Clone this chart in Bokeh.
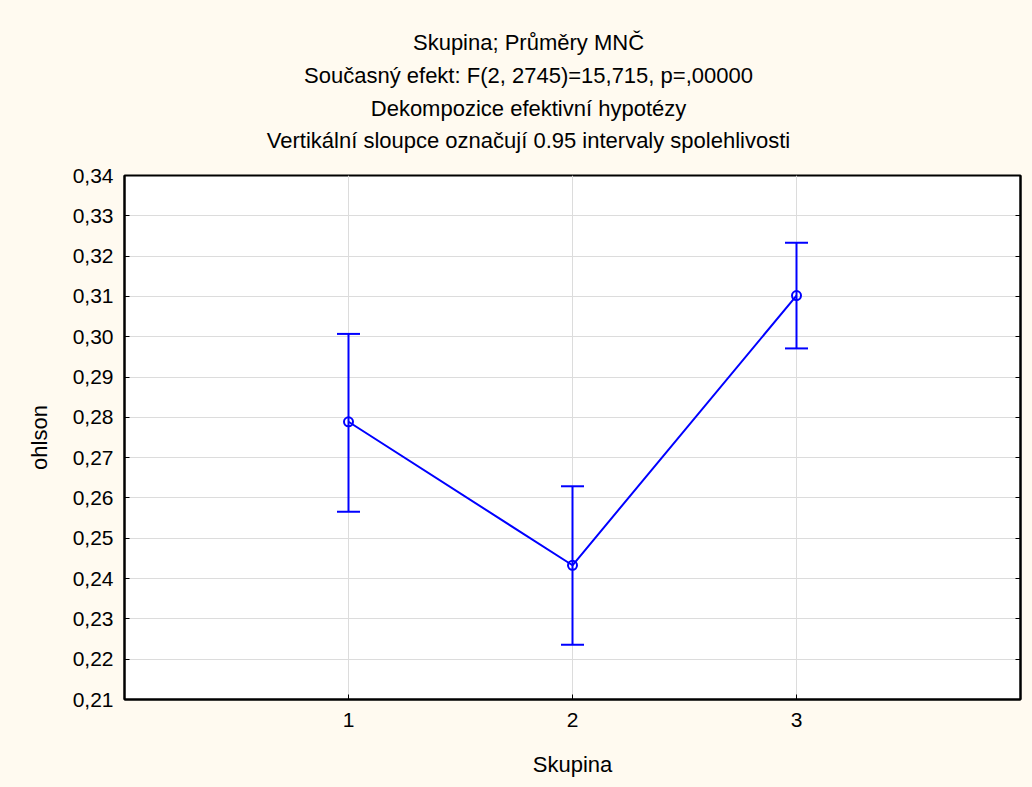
from bokeh.plotting import figure
from bokeh.layouts import column
from bokeh.models import (ColumnDataSource, Whisker, TeeHead, FixedTicker, CustomJSTickFormatter,
                          LinearAxis, Label, Range1d)
from bokeh.embed import file_html
from bokeh.resources import INLINE

# ---- data ----
groups = [1, 2, 3]
means = [0.2789, 0.2433, 0.3102]
upper = [0.3007, 0.2629, 0.3233]
lower = [0.2566, 0.2236, 0.2971]
y_ticks = [0.21, 0.22, 0.23, 0.24, 0.25, 0.26, 0.27, 0.28, 0.29, 0.30, 0.31, 0.32, 0.33, 0.34]
x_ticks = [1, 2, 3]
titles = ["Skupina; Průměry MNČ",
          "Současný efekt: F(2, 2745)=15,715, p=,00000",
          "Dekompozice efektivní hypotézy",
          "Vertikální sloupce označují 0.95 intervaly spolehlivosti"]
x_label = "Skupina"
y_label = "ohlson"

FONT = "Liberation Sans"
BLUE = "#0000FF"
CREAM = "#FFFAF0"
W = 1032
HEAD_H = 162
FRAME_L, FRAME_R = 124, 1020

# ---- header figure holding the four title lines (page-pixel coordinates, y downwards) ----
# the column aligns this figure's frame with the main plot's frame (x 124..1020)
head = figure(output_backend="svg", toolbar_location=None, title_location=None,
              width=W, height=HEAD_H, min_border=0,
              x_range=Range1d(FRAME_L, FRAME_R), y_range=Range1d(HEAD_H, 0),
              background_fill_color=CREAM, border_fill_color=CREAM,
              outline_line_color=None)
head.axis.visible = False
head.grid.visible = False
title_baselines = [42, 75, 108, 140]
for t, yb in zip(titles, title_baselines):
    head.add_layout(Label(x=528, y=yb, text=t, text_align="center", text_baseline="alphabetic",
                          text_font=FONT, text_font_size="22px", text_color="black"))

# ---- main plot ----
p = figure(output_backend="svg", toolbar_location=None, title_location=None,
           frame_width=896, frame_height=524,
           min_border_left=FRAME_L, min_border_right=W - FRAME_R, min_border_top=175 - HEAD_H,
           min_border_bottom=88,
           x_range=Range1d(0, 4), y_range=Range1d(0.21, 0.34),
           background_fill_color="white", border_fill_color=CREAM,
           outline_line_color="black", outline_line_width=2)

src = ColumnDataSource(dict(x=groups, m=means, up=upper, lo=lower))

for ax in (p.xaxis[0], p.yaxis[0]):
    ax.axis_line_color = "black"
    ax.axis_line_width = 2
    ax.major_tick_in = 5
    ax.major_tick_out = 0
    ax.minor_tick_in = 0
    ax.minor_tick_out = 0
    ax.major_tick_line_color = "black"
    ax.major_tick_line_width = 1
    ax.major_label_text_font = FONT
    ax.major_label_text_font_size = "21px"
    ax.major_label_text_color = "black"
    ax.axis_label_text_font = FONT
    ax.axis_label_text_font_size = "22px"
    ax.axis_label_text_font_style = "normal"
    ax.axis_label_text_color = "black"

p.xaxis.ticker = FixedTicker(ticks=x_ticks)
p.yaxis.ticker = FixedTicker(ticks=y_ticks)
p.yaxis.formatter = CustomJSTickFormatter(code="return tick.toFixed(2).replace('.', ',');")
p.xaxis.axis_label = x_label
p.yaxis.axis_label = y_label
p.xaxis.major_label_standoff = 13
p.xaxis.axis_label_standoff = 22
p.yaxis.major_label_standoff = 11
p.yaxis.axis_label_standoff = 18

rax = LinearAxis(ticker=FixedTicker(ticks=y_ticks), major_label_text_font_size="0px",
                 axis_line_color="black", axis_line_width=2,
                 major_tick_in=5, major_tick_out=0, minor_tick_in=0, minor_tick_out=0,
                 major_label_standoff=0)
p.add_layout(rax, "right")

p.grid.grid_line_color = "#DCDCDC"
p.grid.grid_line_width = 1

wh = Whisker(source=src, base="x", upper="up", lower="lo", dimension="height",
             line_color=BLUE, line_width=2,
             upper_head=TeeHead(size=23, line_color=BLUE, line_width=2),
             lower_head=TeeHead(size=23, line_color=BLUE, line_width=2))
p.add_layout(wh)

p.line("x", "m", source=src, line_color=BLUE, line_width=2)
p.scatter("x", "m", source=src, size=9, fill_color=None, line_color=BLUE, line_width=2)

layout = column(head, p, spacing=0, styles={"background-color": CREAM})
open("out.html", "w").write(file_html(layout, INLINE))
